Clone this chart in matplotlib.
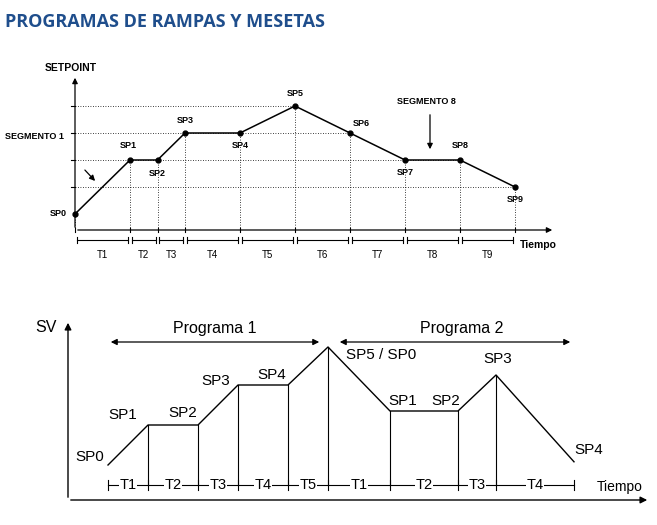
import matplotlib
matplotlib.use("Agg")
import matplotlib.pyplot as plt

# ---- data ----
top_labels = ["SP0","SP1","SP2","SP3","SP4","SP5","SP6","SP7","SP8","SP9"]
top_t = [0, 1, 1.5, 2, 3, 4, 5, 6, 7, 8]
top_lvl = [0, 2, 2, 3, 3, 4, 3, 2, 2, 1]
top_seg = ["T1","T2","T3","T4","T5","T6","T7","T8","T9"]

bot_labels = ["SP0","SP1","SP2","SP3","SP4","SP5 / SP0","SP1","SP2","SP3","SP4"]
bot_t = [0, 1, 2.25, 3.25, 4.5, 5.5, 7.05, 8.75, 9.7, 11.65]
bot_lvl = [0, 1, 1, 2, 2, 2.95, 1.35, 1.35, 2.25, 0.08]
bot_seg = ["T1","T2","T3","T4","T5","T1","T2","T3","T4"]

W, H = 657, 525
SF = dict(family="Liberation Sans", fontweight="bold", fontstretch="condensed")
fig = plt.figure(figsize=(W/100, H/100), dpi=100)
fig.text(5/W, 1-22/H, "PROGRAMAS DE RAMPAS Y MESETAS", color="#1f4e8c",
         fontsize=13, fontweight="bold", family="Open Sans", va="center")

# ---------- top chart ----------
ax = fig.add_axes([0, 1-270/H, 1, 210/H])
ax.set_xlim(-75/55, 582/55); ax.set_ylim((214-270)/27, (214-60)/27); ax.axis("off")
base = (214-230)/27
ak = dict(arrowstyle="-|>", color="black", lw=0.9, mutation_scale=8)
ax.annotate("", xy=(0, (214-75)/27), xytext=(0, base), arrowprops=ak)
ax.annotate("", xy=((555-75)/55, base), xytext=(0, base), arrowprops=ak)
for l in [1, 2, 3, 4]:
    ax.plot([-0.08, 0], [l, l], color="black", lw=0.8)
ends = {4: top_t[5], 3: top_t[6], 2: top_t[8], 1: top_t[9]}
for l, e in ends.items():
    ax.plot([0, e], [l, l], color="black", lw=0.6, ls=(0, (1, 2)))
for t, l in zip(top_t, top_lvl):
    ax.plot([t, t], [base, l], color="black", lw=0.6, ls=(0, (1, 2)))
    ax.plot([t, t], [base-0.08, base+0.08], color="black", lw=0.8)
ax.plot(top_t, top_lvl, color="black", lw=1.1, marker="o", ms=3.5)
brk = (214-240)/27
for i, s in enumerate(top_seg):
    a, b = top_t[i], top_t[i+1]
    ax.plot([a+0.03, b-0.03], [brk, brk], color="black", lw=0.8)
    ax.plot([a+0.03, a+0.03], [brk-0.1, brk+0.1], color="black", lw=0.8)
    ax.plot([b-0.03, b-0.03], [brk-0.1, brk+0.1], color="black", lw=0.8)
    ax.text((a+b)/2, (214-255)/27, s, ha="center", va="center", fontsize=7, family="Liberation Sans")
offs = [(-15, 0, "right", "center"), (-2, 10, "center", "bottom"), (0, -9, "center", "top"),
        (0, 8, "center", "bottom"), (0, -8, "center", "top"), (0, 8, "center", "bottom"),
        (3, 5, "left", "bottom"), (0, -8, "center", "top"), (0, 10, "center", "bottom"),
        (0, -8, "center", "top")]
for lab, t, l, (dx, dy, ha, va) in zip(top_labels, top_t, top_lvl, offs):
    ax.text(t+dx/55 + (0.12 if ha=="right" else 0), l+dy/27, lab, ha=ha, va=va,
            fontsize=6.5, **SF)
ax.text(-30/55, (214-68)/27, "SETPOINT", fontsize=7.5, va="center", **SF)
ax.text((520-75)/55, (214-245)/27, "Tiempo", fontsize=7.5, va="center", **SF)
ax.text(-70/55, (214-137)/27, "SEGMENTO 1", fontsize=6.5, va="center", **SF)
ax.annotate("", xy=((97-75)/55, (214-183)/27), xytext=((83-75)/55, (214-168)/27), arrowprops=ak)
ax.text((397-75)/55, (214-102)/27, "SEGMENTO 8", fontsize=6.5, va="center", **SF)
ax.annotate("", xy=((430-75)/55, (214-152)/27), xytext=((430-75)/55, (214-112)/27), arrowprops=ak)

# ---------- bottom chart ----------
bx = fig.add_axes([0, 0, 1, 225/H])
bx.set_xlim(-108/40, 549/40); bx.set_ylim((465-525)/40, (465-300)/40); bx.axis("off")
yb = (465-500)/40
bk = dict(arrowstyle="-|>", color="black", lw=1.0, mutation_scale=10)
bx.annotate("", xy=(-1, (465-320)/40), xytext=(-1, yb), arrowprops=bk)
bx.annotate("", xy=((650-108)/40, yb), xytext=(-1, yb), arrowprops=bk)
ta = -0.5
bx.plot([bot_t[0], bot_t[-1]], [ta, ta], color="black", lw=0.8)
for t, l in zip(bot_t, bot_lvl):
    bx.plot([t, t], [ta-0.12, ta+0.12], color="black", lw=0.8)
    if t > 0 and t < bot_t[-1]:
        bx.plot([t, t], [ta, l], color="black", lw=0.8)
for i, s in enumerate(bot_seg):
    a, b = bot_t[i], bot_t[i+1]
    bx.text((a+b)/2, ta, s, ha="center", va="center", fontsize=10.5,
            family="Liberation Sans", bbox=dict(fc="white", ec="none", pad=0.5))
bx.plot(bot_t, bot_lvl, color="black", lw=1.0)
boff = [(-33, 8), (-40, 10), (-30, 12), (-37, 4), (-31, 10), (18, -8),
        (-2, 10), (-27, 10), (-13, 16), (0, 12)]
for lab, t, l, (dx, dy) in zip(bot_labels, bot_t, bot_lvl, boff):
    bx.text(t+dx/40, l+dy/40, lab, ha="left", va="center", fontsize=11, family="Liberation Sans")
pa = (465-342)/40
dk = dict(arrowstyle="<|-|>", color="black", lw=0.9, mutation_scale=9)
bx.annotate("", xy=(0, pa), xytext=((322-108)/40, pa), arrowprops=dk)
bx.annotate("", xy=((337-108)/40, pa), xytext=((573-108)/40, pa), arrowprops=dk)
bx.text((215-108)/40, (465-328)/40, "Programa 1", ha="center", va="center", fontsize=11.5, family="Liberation Sans")
bx.text((462-108)/40, (465-328)/40, "Programa 2", ha="center", va="center", fontsize=11.5, family="Liberation Sans")
bx.text((35-108)/40, (465-328)/40, "SV", ha="left", va="center", fontsize=11.5, family="Liberation Sans")
bx.text((597-108)/40, (465-487)/40, "Tiempo", ha="left", va="center", fontsize=10, family="Liberation Sans")

fig.savefig("out.png", dpi=100)
